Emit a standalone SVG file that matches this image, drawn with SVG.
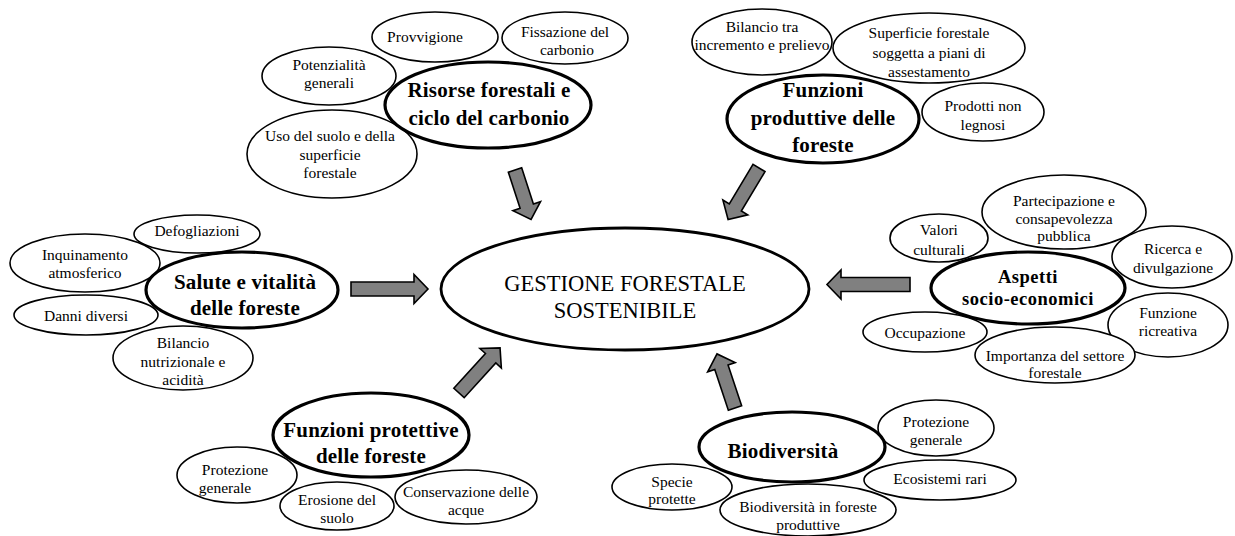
<svg xmlns="http://www.w3.org/2000/svg" width="1235" height="536" viewBox="0 0 1235 536">
<style>
text{font-family:"Liberation Serif","Times New Roman",serif;fill:#000;text-anchor:middle}
.s{font-size:15.5px}
.b{font-size:21px;font-weight:bold;letter-spacing:0.2px}
.c{font-size:22.5px}
.e{fill:#fff;stroke:#000;stroke-width:1.6}
.m{fill:#fff;stroke:#000;stroke-width:3.2}
.g{fill:#fff;stroke:#000;stroke-width:2.8}
.a{fill:#808080;stroke:#000;stroke-width:1.6;stroke-linejoin:miter}
</style>
<rect width="1235" height="536" fill="#fff"/>

<g id="connectors">
<path class="a" transform="translate(351,289)" d="M0,-7 H63 V-14.5 L77,0 L63,14.5 V7 H0 Z"/>
<path class="a" transform="translate(910,284.5) rotate(180)" d="M0,-7 H69 V-14.5 L83,0 L69,14.5 V7 H0 Z"/>
<path class="a" transform="translate(515,170) rotate(72)" d="M0,-7 H38 V-14.5 L52,0 L38,14.5 V7 H0 Z"/>
<path class="a" transform="translate(759,168) rotate(121)" d="M0,-7 H46 V-14.5 L60,0 L46,14.5 V7 H0 Z"/>
<path class="a" transform="translate(459,393) rotate(-47.7)" d="M0,-7 H47 V-14.5 L61,0 L47,14.5 V7 H0 Z"/>
<path class="a" transform="translate(735,408) rotate(-108.4)" d="M0,-7 H43 V-14.5 L57,0 L43,14.5 V7 H0 Z"/>
</g>

<g id="center">
<ellipse class="g" cx="625" cy="289" rx="184" ry="61"/>
<text class="c" x="625" y="291">GESTIONE FORESTALE</text>
<text class="c" x="625" y="318">SOSTENIBILE</text>
</g>

<!-- Risorse cluster -->
<g id="provvigione">
<ellipse class="e" cx="435" cy="37" rx="63" ry="25"/>
<text class="s" x="425" y="42">Provvigione</text>
</g>
<g id="fissazione">
<ellipse class="e" cx="565" cy="38" rx="63" ry="26"/>
<text class="s" x="565" y="37">Fissazione del</text>
<text class="s" x="567" y="55">carbonio</text>
</g>
<g id="potenzialita">
<ellipse class="e" cx="329" cy="76" rx="67" ry="29"/>
<text class="s" x="329" y="70">Potenzialità</text>
<text class="s" x="329" y="88">generali</text>
</g>
<g id="uso-suolo">
<ellipse class="e" cx="332" cy="154" rx="85" ry="44"/>
<text class="s" x="330" y="141">Uso del suolo e della</text>
<text class="s" x="330" y="160">superficie</text>
<text class="s" x="330" y="178">forestale</text>
</g>
<g id="risorse">
<ellipse class="m" cx="488" cy="105" rx="103" ry="43"/>
<text class="b" x="489" y="97">Risorse forestali e</text>
<text class="b" x="489" y="125">ciclo del carbonio</text>
</g>

<!-- Produttive cluster -->
<g id="bilancio-incremento">
<ellipse class="e" cx="762" cy="42" rx="70" ry="33"/>
<text class="s" x="762" y="32">Bilancio tra</text>
<text class="s" x="762" y="50">incremento e prelievo</text>
</g>
<g id="superficie-piani">
<ellipse class="e" cx="929" cy="48" rx="96" ry="35"/>
<text class="s" x="929" y="38">Superficie forestale</text>
<text class="s" x="929" y="58">soggetta a piani di</text>
<text class="s" x="929" y="77">assestamento</text>
</g>
<g id="prodotti-non-legnosi">
<ellipse class="e" cx="983" cy="112" rx="61" ry="29"/>
<text class="s" x="983" y="111">Prodotti non</text>
<text class="s" x="983" y="130">legnosi</text>
</g>
<g id="produttive">
<ellipse class="m" cx="823" cy="119" rx="96" ry="44"/>
<text class="b" x="823" y="97">Funzioni</text>
<text class="b" x="823" y="125">produttive delle</text>
<text class="b" x="823" y="152">foreste</text>
</g>

<!-- Salute cluster -->
<g id="defogliazioni">
<ellipse class="e" cx="197" cy="234" rx="63" ry="19"/>
<text class="s" x="197" y="236">Defogliazioni</text>
</g>
<g id="inquinamento">
<ellipse class="e" cx="85" cy="263" rx="75" ry="29"/>
<text class="s" x="85" y="260">Inquinamento</text>
<text class="s" x="85" y="278">atmosferico</text>
</g>
<g id="danni">
<ellipse class="e" cx="86" cy="315" rx="72" ry="20"/>
<text class="s" x="86" y="321">Danni diversi</text>
</g>
<g id="bilancio-nutrizionale">
<ellipse class="e" cx="183" cy="358" rx="70" ry="32"/>
<text class="s" x="183" y="348">Bilancio</text>
<text class="s" x="183" y="367">nutrizionale e</text>
<text class="s" x="183" y="385">acidità</text>
</g>
<g id="salute">
<ellipse class="m" cx="242" cy="290" rx="96" ry="38"/>
<text class="b" x="245" y="289">Salute e vitalità</text>
<text class="b" x="245" y="315">delle foreste</text>
</g>

<!-- Socio-economici cluster -->
<g id="valori">
<ellipse class="e" cx="939" cy="238" rx="49" ry="24"/>
<text class="s" x="939" y="235">Valori</text>
<text class="s" x="939" y="255">culturali</text>
</g>
<g id="partecipazione">
<ellipse class="e" cx="1064" cy="212" rx="82" ry="37"/>
<text class="s" x="1064" y="206">Partecipazione e</text>
<text class="s" x="1064" y="224">consapevolezza</text>
<text class="s" x="1064" y="241">pubblica</text>
</g>
<g id="ricerca">
<ellipse class="e" cx="1172" cy="257" rx="60" ry="31"/>
<text class="s" x="1173" y="254">Ricerca e</text>
<text class="s" x="1173" y="273">divulgazione</text>
</g>
<g id="ricreativa">
<ellipse class="e" cx="1168" cy="325" rx="60" ry="32"/>
<text class="s" x="1168" y="318">Funzione</text>
<text class="s" x="1168" y="336">ricreativa</text>
</g>
<g id="occupazione">
<ellipse class="e" cx="925" cy="332" rx="62" ry="20"/>
<text class="s" x="925" y="338">Occupazione</text>
</g>
<g id="importanza">
<ellipse class="e" cx="1055" cy="355" rx="80" ry="28"/>
<text class="s" x="1055" y="361">Importanza del settore</text>
<text class="s" x="1055" y="378">forestale</text>
</g>
<g id="socio-economici">
<ellipse class="m" cx="1028" cy="288" rx="97" ry="36"/>
<text class="b" style="font-size:18.5px;letter-spacing:0.5px" x="1028" y="283">Aspetti</text>
<text class="b" style="font-size:18.5px;letter-spacing:0.5px" x="1028" y="305">socio-economici</text>
</g>

<!-- Protettive cluster -->
<g id="protezione-generale-1">
<ellipse class="e" cx="237" cy="475" rx="60" ry="28"/>
<text class="s" x="235" y="475">Protezione</text>
<text class="s" x="225" y="493">generale</text>
</g>
<g id="erosione">
<ellipse class="e" cx="337" cy="506" rx="57" ry="24"/>
<text class="s" x="337" y="505">Erosione del</text>
<text class="s" x="337" y="523">suolo</text>
</g>
<g id="conservazione">
<ellipse class="e" cx="466" cy="497" rx="71" ry="27"/>
<text class="s" x="466" y="497">Conservazione delle</text>
<text class="s" x="466" y="515">acque</text>
</g>
<g id="protettive">
<ellipse class="m" cx="371" cy="435" rx="98" ry="42"/>
<text class="b" x="371" y="437">Funzioni protettive</text>
<text class="b" x="371" y="463">delle foreste</text>
</g>

<!-- Biodiversita cluster -->
<g id="protezione-generale-2">
<ellipse class="e" cx="936" cy="428" rx="58" ry="28"/>
<text class="s" x="936" y="427">Protezione</text>
<text class="s" x="936" y="445">generale</text>
</g>
<g id="ecosistemi">
<ellipse class="e" cx="940" cy="480" rx="76" ry="20"/>
<text class="s" x="940" y="484">Ecosistemi rari</text>
</g>
<g id="specie">
<ellipse class="e" cx="672" cy="487" rx="60" ry="23"/>
<text class="s" x="672" y="487">Specie</text>
<text class="s" x="672" y="504">protette</text>
</g>
<g id="biodiversita-produttive">
<ellipse class="e" cx="808" cy="510" rx="88" ry="26"/>
<text class="s" x="808" y="512">Biodiversità in foreste</text>
<text class="s" x="808" y="530">produttive</text>
</g>
<g id="biodiversita">
<ellipse class="m" cx="792" cy="447" rx="93" ry="35"/>
<text class="b" x="783" y="458">Biodiversità</text>
</g>
</svg>
